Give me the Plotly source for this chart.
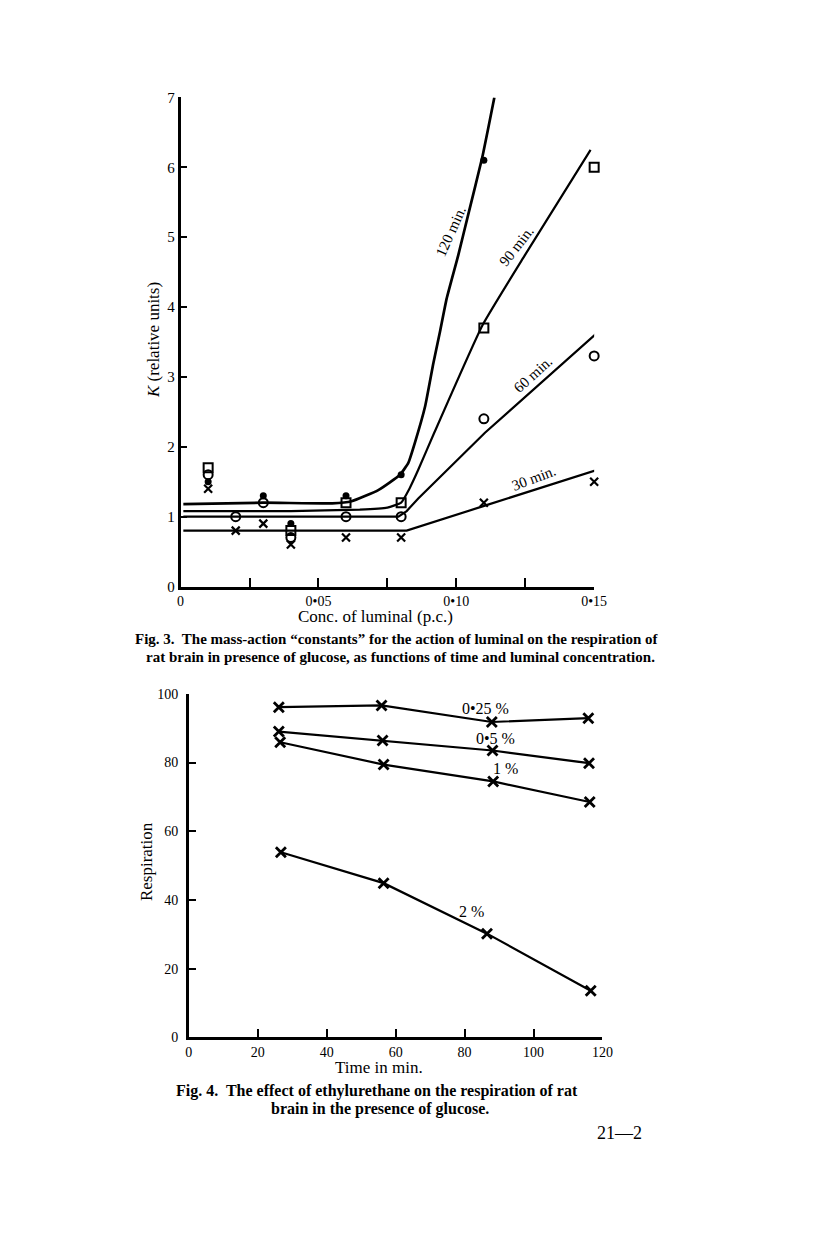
import plotly.graph_objects as go

# ---------- Fig. 3 : K vs concentration of luminal ----------
conc_120 = [0.01, 0.03, 0.04, 0.06, 0.08, 0.11]
k_120 = [1.5, 1.3, 0.9, 1.3, 1.6, 6.1]
conc_90 = [0.01, 0.04, 0.06, 0.08, 0.11, 0.15]
k_90 = [1.7, 0.8, 1.2, 1.2, 3.7, 6.0]
conc_60 = [0.01, 0.02, 0.03, 0.04, 0.06, 0.08, 0.11, 0.15]
k_60 = [1.6, 1.0, 1.2, 0.7, 1.0, 1.0, 2.4, 3.3]
conc_30 = [0.01, 0.02, 0.03, 0.04, 0.06, 0.08, 0.11, 0.15]
k_30 = [1.4, 0.8, 0.9, 0.6, 0.7, 0.7, 1.2, 1.5]

# hand-drawn fitted curves
curve_120_x = [0.001, 0.03, 0.055, 0.062, 0.0717, 0.0796, 0.0826, 0.085, 0.0887, 0.0917, 0.0941,
               0.0965, 0.1007, 0.1043, 0.1094, 0.1138]
curve_120_y = [1.18, 1.2, 1.19, 1.22, 1.38, 1.6, 1.77, 2.06, 2.58, 3.2, 3.65, 4.12, 4.74, 5.32, 6.14, 7.0]
curve_90_x = [0.001, 0.04, 0.065, 0.075, 0.08, 0.083, 0.0862, 0.092, 0.1095, 0.125, 0.1487]
curve_90_y = [1.08, 1.08, 1.1, 1.13, 1.2, 1.4, 1.67, 2.2, 3.74, 4.75, 6.25]
curve_60_x = [0.001, 0.04, 0.079, 0.082, 0.0862, 0.1104, 0.1508]
curve_60_y = [1.0, 1.0, 1.0, 1.08, 1.26, 2.2, 3.62]
curve_30_x = [0.001, 0.04, 0.082, 0.1098, 0.1503]
curve_30_y = [0.8, 0.8, 0.8, 1.15, 1.66]

curve_labels = ["120 min.", "90 min.", "60 min.", "30 min."]
curve_label_x = [0.0978, 0.1218, 0.1280, 0.1283]
curve_label_y = [5.08, 4.88, 3.04, 1.55]
curve_label_angle = [-66, -52, -42, -21]

conc_ticks = [0, 0.025, 0.05, 0.075, 0.10, 0.125, 0.15]
conc_ticktext = ["0", "", "0•05", "", "0•10", "", "0•15"]
k_ticks = [0, 1, 2, 3, 4, 5, 6, 7]

# ---------- Fig. 4 : respiration vs time ----------
time_025 = [26.1, 55.9, 87.9, 115.9]
resp_025 = [96.1, 96.6, 91.8, 92.9]
time_05 = [26.1, 56.2, 88.1, 116.1]
resp_05 = [89.0, 86.4, 83.5, 79.8]
time_1 = [26.5, 56.5, 88.3, 116.3]
resp_1 = [85.9, 79.4, 74.5, 68.5]
time_2 = [26.7, 56.5, 86.5, 116.6]
resp_2 = [53.9, 44.9, 30.2, 13.6]

series_labels = ["0•25 %", "0•5 %", "1 %", "2 %"]
series_label_x = [86.2, 88.9, 92.0, 82.1]
series_label_y = [95.8, 86.9, 78.2, 36.6]

time_ticks = [0, 20, 40, 60, 80, 100, 120]
resp_ticks = [0, 20, 40, 60, 80, 100]

# figure size; the page puts a margin round it and the snapshot comes out a bit squeezed,
# so target positions (page pixels) are mapped back through that
W, H = 800, 1242
OX, OY = 8, 8
SX, SY = 0.981, 0.989
DX, DY = 3.4, 7.0
serif = "Liberation Serif"


def fx(px):
    return ((px - DX) / SX - OX) / W


def fy(py):
    return 1 - ((py - DY) / SY - OY) / H


fig = go.Figure()

# fitted curves of fig 3
for cx, cy, w, shp in [(curve_120_x, curve_120_y, 2.7, "spline"), (curve_90_x, curve_90_y, 2.2, "spline"),
                       (curve_60_x, curve_60_y, 2.2, "linear"), (curve_30_x, curve_30_y, 2.2, "linear")]:
    fig.add_trace(go.Scatter(x=cx, y=cy, mode="lines", line=dict(color="black", width=w, shape=shp, smoothing=0.4),
                             hoverinfo="skip", xaxis="x", yaxis="y"))

# observed points of fig 3
fig.add_trace(go.Scatter(x=conc_120, y=k_120, mode="markers", name="120 min.", cliponaxis=False,
                         marker=dict(symbol="circle", size=7, color="black"), xaxis="x", yaxis="y"))
fig.add_trace(go.Scatter(x=conc_90, y=k_90, mode="markers", name="90 min.", cliponaxis=False,
                         marker=dict(symbol="square-open", size=9, color="black", line=dict(width=2)), xaxis="x", yaxis="y"))
fig.add_trace(go.Scatter(x=conc_60, y=k_60, mode="markers", name="60 min.", cliponaxis=False,
                         marker=dict(symbol="circle-open", size=9, color="black", line=dict(width=2)), xaxis="x", yaxis="y"))
fig.add_trace(go.Scatter(x=conc_30, y=k_30, mode="markers", name="30 min.", cliponaxis=False,
                         marker=dict(symbol="x-thin", size=8, color="black", line=dict(width=2.2, color="black")),
                         xaxis="x", yaxis="y"))

# fig 4 series
for tx, ry, nm in [(time_025, resp_025, "0•25 %"), (time_05, resp_05, "0•5 %"),
                   (time_1, resp_1, "1 %"), (time_2, resp_2, "2 %")]:
    fig.add_trace(go.Scatter(x=tx, y=ry, mode="lines+markers", name=nm, cliponaxis=False,
                             line=dict(color="black", width=2.2),
                             marker=dict(symbol="x-thin", size=10, color="black", line=dict(width=2.8, color="black")),
                             xaxis="x2", yaxis="y2"))

axis_common = dict(showline=True, linecolor="black", linewidth=2.5, showgrid=False, zeroline=False,
                   ticks="inside", tickcolor="black", tickwidth=2, mirror=False,
                   tickfont=dict(family=serif, size=14, color="black"))

fig.update_layout(
    width=W, height=H,
    margin=dict(l=0, r=0, t=0, b=0),
    paper_bgcolor="white", plot_bgcolor="rgba(0,0,0,0)",
    showlegend=False,
    font=dict(family=serif, color="black", size=14),
    xaxis=dict(axis_common, domain=[fx(181), fx(595)], range=[0, 0.15], anchor="y",
               tickmode="array", tickvals=conc_ticks, ticktext=conc_ticktext, ticklen=9),
    yaxis=dict(axis_common, domain=[fy(586.5), fy(96.5)], range=[0, 7], anchor="x",
               tickmode="array", tickvals=k_ticks, ticklen=7, ticklabelstandoff=0,
               tickfont=dict(family=serif, size=15, color="black")),
    xaxis2=dict(axis_common, domain=[fx(189.3), fx(603.3)], range=[0, 120], anchor="y2",
                tickmode="array", tickvals=time_ticks, ticklen=9),
    yaxis2=dict(axis_common, domain=[fy(1038.3), fy(694)], range=[0, 100], anchor="x2",
                tickmode="array", tickvals=resp_ticks, ticklen=7, ticklabelstandoff=5),
)

# curve labels fig 3
for t, x, y, a in zip(curve_labels, curve_label_x, curve_label_y, curve_label_angle):
    fig.add_annotation(x=x, y=y, xref="x", yref="y", text=t, showarrow=False, textangle=a,
                       font=dict(family=serif, size=15, color="black"))

# series labels fig 4
for t, x, y in zip(series_labels, series_label_x, series_label_y):
    fig.add_annotation(x=x, y=y, xref="x2", yref="y2", text=t, showarrow=False,
                       font=dict(family=serif, size=16, color="black"))


def paper_text(text, px, py, size, bold=False, angle=0):
    fig.add_annotation(x=fx(px), y=fy(py), xref="paper", yref="paper", text=text, showarrow=False,
                       textangle=angle, xanchor="center", yanchor="middle",
                       font=dict(family=serif, size=size, color="black", weight="bold" if bold else "normal"))


# axis titles
paper_text("<i>K</i> (relative units)", 154, 340, 17, angle=-90)
paper_text("Conc. of luminal (p.c.)", 376, 617, 17)
paper_text("Respiration", 147, 862, 17, angle=-90)
paper_text("Time in min.", 380, 1068, 17)

# captions
paper_text("Fig. 3.  The mass-action \u201cconstants\u201d for the action of luminal on the respiration of", 398, 639, 15, bold=True)
paper_text("rat brain in presence of glucose, as functions of time and luminal concentration.", 401, 657, 15, bold=True)
paper_text("Fig. 4.  The effect of ethylurethane on the respiration of rat", 378, 1092, 16, bold=True)
paper_text("brain in the presence of glucose.", 381, 1110, 16, bold=True)
paper_text("21\u20142", 620, 1134, 18)

fig.write_html("out.html")
